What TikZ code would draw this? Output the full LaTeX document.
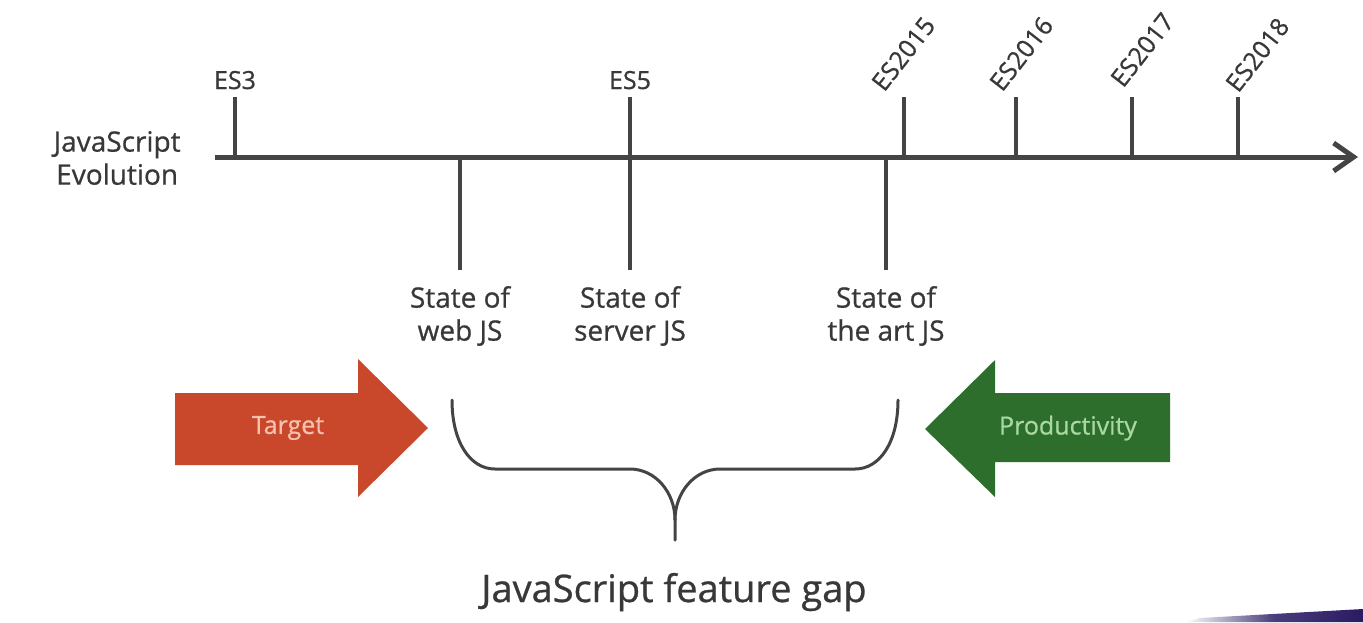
\documentclass[tikz,border=0pt]{standalone}
\usepackage{fontspec}
\setmainfont{Open Sans}[FakeBold=0.7]
\usetikzlibrary{arrows.meta}
\definecolor{ink}{HTML}{444444}
\definecolor{txt}{HTML}{383838}
\definecolor{targetc}{HTML}{C9482B}
\definecolor{targettxt}{HTML}{F4C2AE}
\definecolor{prodc}{HTML}{2E6E2D}
\definecolor{prodtxt}{HTML}{A9D8A2}
\definecolor{purp}{HTML}{2A1A63}
\begin{document}
\begin{tikzpicture}[x=0.5pt,y=-0.5pt,
  axisline/.style={draw=ink,line width=2.5pt},
  tickline/.style={draw=ink,line width=2pt},
  braceline/.style={draw=ink,line width=1.5pt,line cap=round},
  eslabel/.style={font=\fontsize{12.5}{14}\selectfont,text=txt,inner sep=0pt},
  eslabelrot/.style={eslabel,rotate=52,anchor=base west},
  statelabel/.style={font=\fontsize{14}{16.5}\selectfont,align=center,text=txt,inner sep=0pt},
  arrowtext/.style={font=\fontsize{12.5}{14}\selectfont,inner sep=0pt}]
\useasboundingbox (0,0) rectangle (1363,622);
\fill[white] (0,0) rectangle (1363,622);

% axis
\coordinate (a0) at (215,157);
\coordinate (a1) at (1358,157);
\draw[axisline,-{Straight Barb[length=10pt,width=14pt,line width=2.5pt]}] (a0) -- (a1);

\node[statelabel,anchor=east] (evo) at (181,158) {JavaScript\\Evolution};

% upward ticks
\foreach \n/\x in {es3/235,es5/630,es15/904,es16/1016,es17/1132,es18/1238}{
  \coordinate (t\n) at (\x,97);
  \coordinate (b\n) at (\x,157);
}
\draw[tickline] (tes3) -- (bes3);
\draw[tickline] (tes15) -- (bes15);
\draw[tickline] (tes16) -- (bes16);
\draw[tickline] (tes17) -- (bes17);
\draw[tickline] (tes18) -- (bes18);

\node[eslabel,anchor=base] (l3) at (235,89) {ES3};
\node[eslabel,anchor=base] (l5) at (630,89) {ES5};
\node[eslabelrot] (l15) at (884,93) {ES2015};
\node[eslabelrot] (l16) at (1002,93) {ES2016};
\node[eslabelrot] (l17) at (1123,89) {ES2017};
\node[eslabelrot] (l18) at (1238,94) {ES2018};

% downward ticks
\coordinate (dweb) at (460,270);
\coordinate (aweb) at (460,157);
\coordinate (dsrv) at (630,270);
\coordinate (dart) at (886,270);
\coordinate (aart) at (886,157);
\draw[tickline] (aweb) -- (dweb);
\draw[tickline] (tes5) -- (dsrv);
\draw[tickline] (aart) -- (dart);

\node[statelabel] (web) at (460,316) {State of\\web JS};
\node[statelabel] (srv) at (630,316) {State of\\server JS};
\node[statelabel] (art) at (886,316) {State of\\the art JS};

% brace
\coordinate (bl) at (452,400);
\coordinate (br) at (898,400);
\coordinate (bm) at (675,520);
\coordinate (bt) at (675,540);
\draw[braceline] (bl) .. controls (452,442) and (470,469) .. (495,469) -- (630,469)
   .. controls (655,469) and (675,492) .. (bm) -- (bt);
\draw[braceline] (br) .. controls (898,442) and (880,469) .. (855,469) -- (720,469)
   .. controls (695,469) and (675,492) .. (bm);

\node[font=\fontsize{19}{22}\selectfont,text=txt,anchor=base,inner sep=0pt] (gap) at (674,602) {JavaScript feature gap};

% Target arrow
\fill[targetc] (175,393) -- (358,393) -- (358,359) -- (428,428) -- (358,497) -- (358,465) -- (175,465) -- cycle;
\node[arrowtext,text=targettxt] (target) at (288,428) {Target};

% Productivity arrow
\fill[prodc] (925,429) -- (995,360) -- (995,393) -- (1170,393) -- (1170,462) -- (995,462) -- (995,497) -- cycle;
\node[arrowtext,text=prodtxt] (prod) at (1068,428) {Productivity};

% purple bar
\shade[left color=white,right color=purp,middle color=purp!85] (1185,622) -- (1200,618) -- (1363,609) -- (1363,622) -- cycle;
\end{tikzpicture}
\end{document}
